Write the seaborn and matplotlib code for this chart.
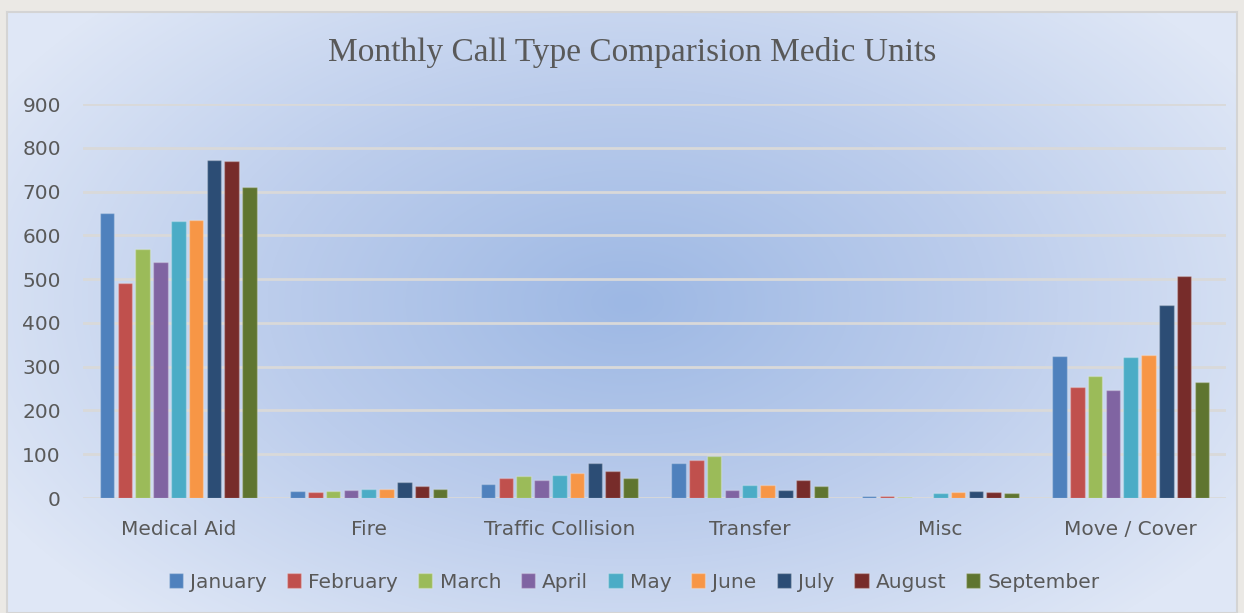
import numpy as np
import pandas as pd
import matplotlib.pyplot as plt
from matplotlib.colors import LinearSegmentedColormap
import seaborn as sns

# Call counts per category, one list per month
categories = ["Medical Aid", "Fire", "Traffic Collision", "Transfer", "Misc", "Move / Cover"]
months = ["January", "February", "March", "April", "May", "June", "July", "August", "September"]
january = [651, 15, 33, 79, 4, 324]
february = [491, 14, 45, 86, 4, 253]
march = [568, 17, 50, 95, 3, 278]
april = [540, 19, 42, 19, 0, 247]
may = [633, 20, 52, 29, 11, 322]
june = [635, 20, 58, 29, 13, 327]
july = [772, 36, 79, 18, 15, 441]
august = [769, 28, 61, 40, 13, 507]
september = [710, 20, 45, 27, 12, 266]
series = [january, february, march, april, may, june, july, august, september]
month_colors = ["#4F81BD", "#C0504D", "#9BBB59", "#8064A2", "#4BACC6",
                "#F79646", "#2C4D75", "#772C2A", "#5F7530"]

rows = []
for m, vals in zip(months, series):
    for c, v in zip(categories, vals):
        rows.append({"Category": c, "Month": m, "Calls": v})
df = pd.DataFrame(rows)

sns.set_style("white")
fig = plt.figure(figsize=(12.44, 6.13), dpi=100)
fig.patch.set_facecolor("#ebe9e5")

# --- panel background with a soft radial blue gradient ---
bg = fig.add_axes([7 / 1244, 0, 1230 / 1244, 601 / 613])
bg.set_zorder(0)
yy, xx = np.mgrid[0:601, 0:1230]
r = np.sqrt(((xx - 620) / 720.0) ** 2 + ((yy - 290) / 430.0) ** 2)
r = np.clip(r, 0, 1)
cmap = LinearSegmentedColormap.from_list("panel", ["#9db8e4", "#bccdec", "#dfe7f6"])
bg.imshow(r, cmap=cmap, aspect="auto", extent=[0, 1230, 601, 0])
bg.set_xticks([])
bg.set_yticks([])
for s in bg.spines.values():
    s.set_color("#d4d4d4")
    s.set_linewidth(1.5)

# --- main chart ---
ax = fig.add_axes([83 / 1244, (613 - 498) / 613, 1143 / 1244, 394 / 613])
ax.set_zorder(1)
ax.patch.set_alpha(0)
sns.barplot(data=df, x="Category", y="Calls", hue="Month", hue_order=months,
            order=categories, palette=month_colors, saturation=1, width=0.84, gap=0.18,
            edgecolor=(1, 1, 1, 0.25), linewidth=1, ax=ax)

ax.set_ylim(0, 900)
ax.set_xlim(-0.5, 5.5)
ax.set_yticks(range(0, 901, 100))
ax.yaxis.grid(True, color="#d9d9d9", linewidth=2)
ax.set_axisbelow(True)
for s in ax.spines.values():
    s.set_visible(False)
ax.tick_params(axis="y", length=0, pad=16, labelsize=14.5, labelcolor="#595959")
ax.tick_params(axis="x", length=0, pad=16, labelsize=14.5, labelcolor="#595959")
ax.set_xlabel("")
ax.set_ylabel("")

handles, labels = ax.get_legend_handles_labels()
ax.get_legend().remove()
fig.legend(handles, labels, loc="center", bbox_to_anchor=(0.51, 1 - 582 / 613),
           ncol=9, frameon=False, fontsize=14.5, labelcolor="#595959",
           handlelength=0.7, handleheight=0.7, handletextpad=0.35, columnspacing=1.0)

fig.text(0.508, 1 - 53 / 613, "Monthly Call Type Comparision Medic Units",
         ha="center", va="center", fontsize=24, color="#595959",
         family="Liberation Serif")

plt.savefig("out.png", dpi=100)
